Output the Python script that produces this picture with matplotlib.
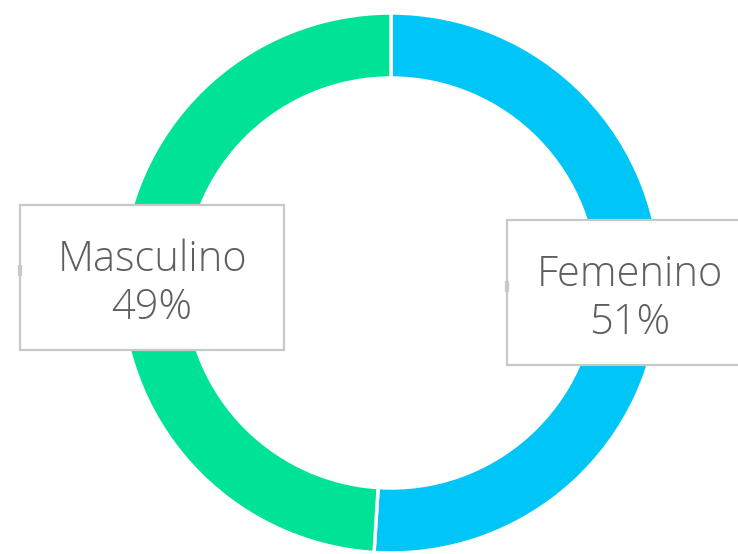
import numpy as np
import matplotlib
matplotlib.use("Agg")
import matplotlib.pyplot as plt
from matplotlib.patches import Rectangle

# datos
labels = ["Femenino", "Masculino"]
shares = [51, 49]
colors = ["#00C5F7", "#00E296"]

W, H = 738, 554
fig = plt.figure(figsize=(W / 100, H / 100), dpi=100)
ax = fig.add_axes([0, 0, 1, 1])

cx, cy, r = 391, 271, 270
wedges, _ = ax.pie(shares, colors=colors, startangle=90, counterclock=False,
                   radius=r, center=(cx, cy), frame=True,
                   wedgeprops=dict(width=65, edgecolor="white", linewidth=2.5))
ax.set_xlim(0, W)
ax.set_ylim(0, H)
ax.set_aspect("equal")
ax.axis("off")

# etiquetas en cajas (margen izquierdo de cada caja respecto al texto)
box_left = [123, 132]
box_w, box_h = 264, 145
for w, lab, val, bl in zip(wedges, labels, shares, box_left):
    ang = np.deg2rad((w.theta1 + w.theta2) / 2)
    lx = cx + 0.885 * r * np.cos(ang)
    ly = cy + 0.885 * r * np.sin(ang) - 2
    ax.add_patch(Rectangle((lx - bl, ly - box_h / 2), box_w, box_h,
                           facecolor="white", edgecolor="#c8c8c8", linewidth=1.6, zorder=3))
    # pequeño conector en el borde izquierdo
    ax.plot([lx - bl, lx - bl], [ly + 1, ly + 12], color="#c8c8c8",
            linewidth=3, solid_capstyle="butt", zorder=4)
    ax.text(lx, ly - 6, f"{lab}\n{val}%", ha="center", va="center", fontsize=30,
            family=["Open Sans", "DejaVu Sans"], fontweight="light", color="#5f5f5f",
            linespacing=1.17, zorder=5)

fig.savefig("out.png", dpi=100)
